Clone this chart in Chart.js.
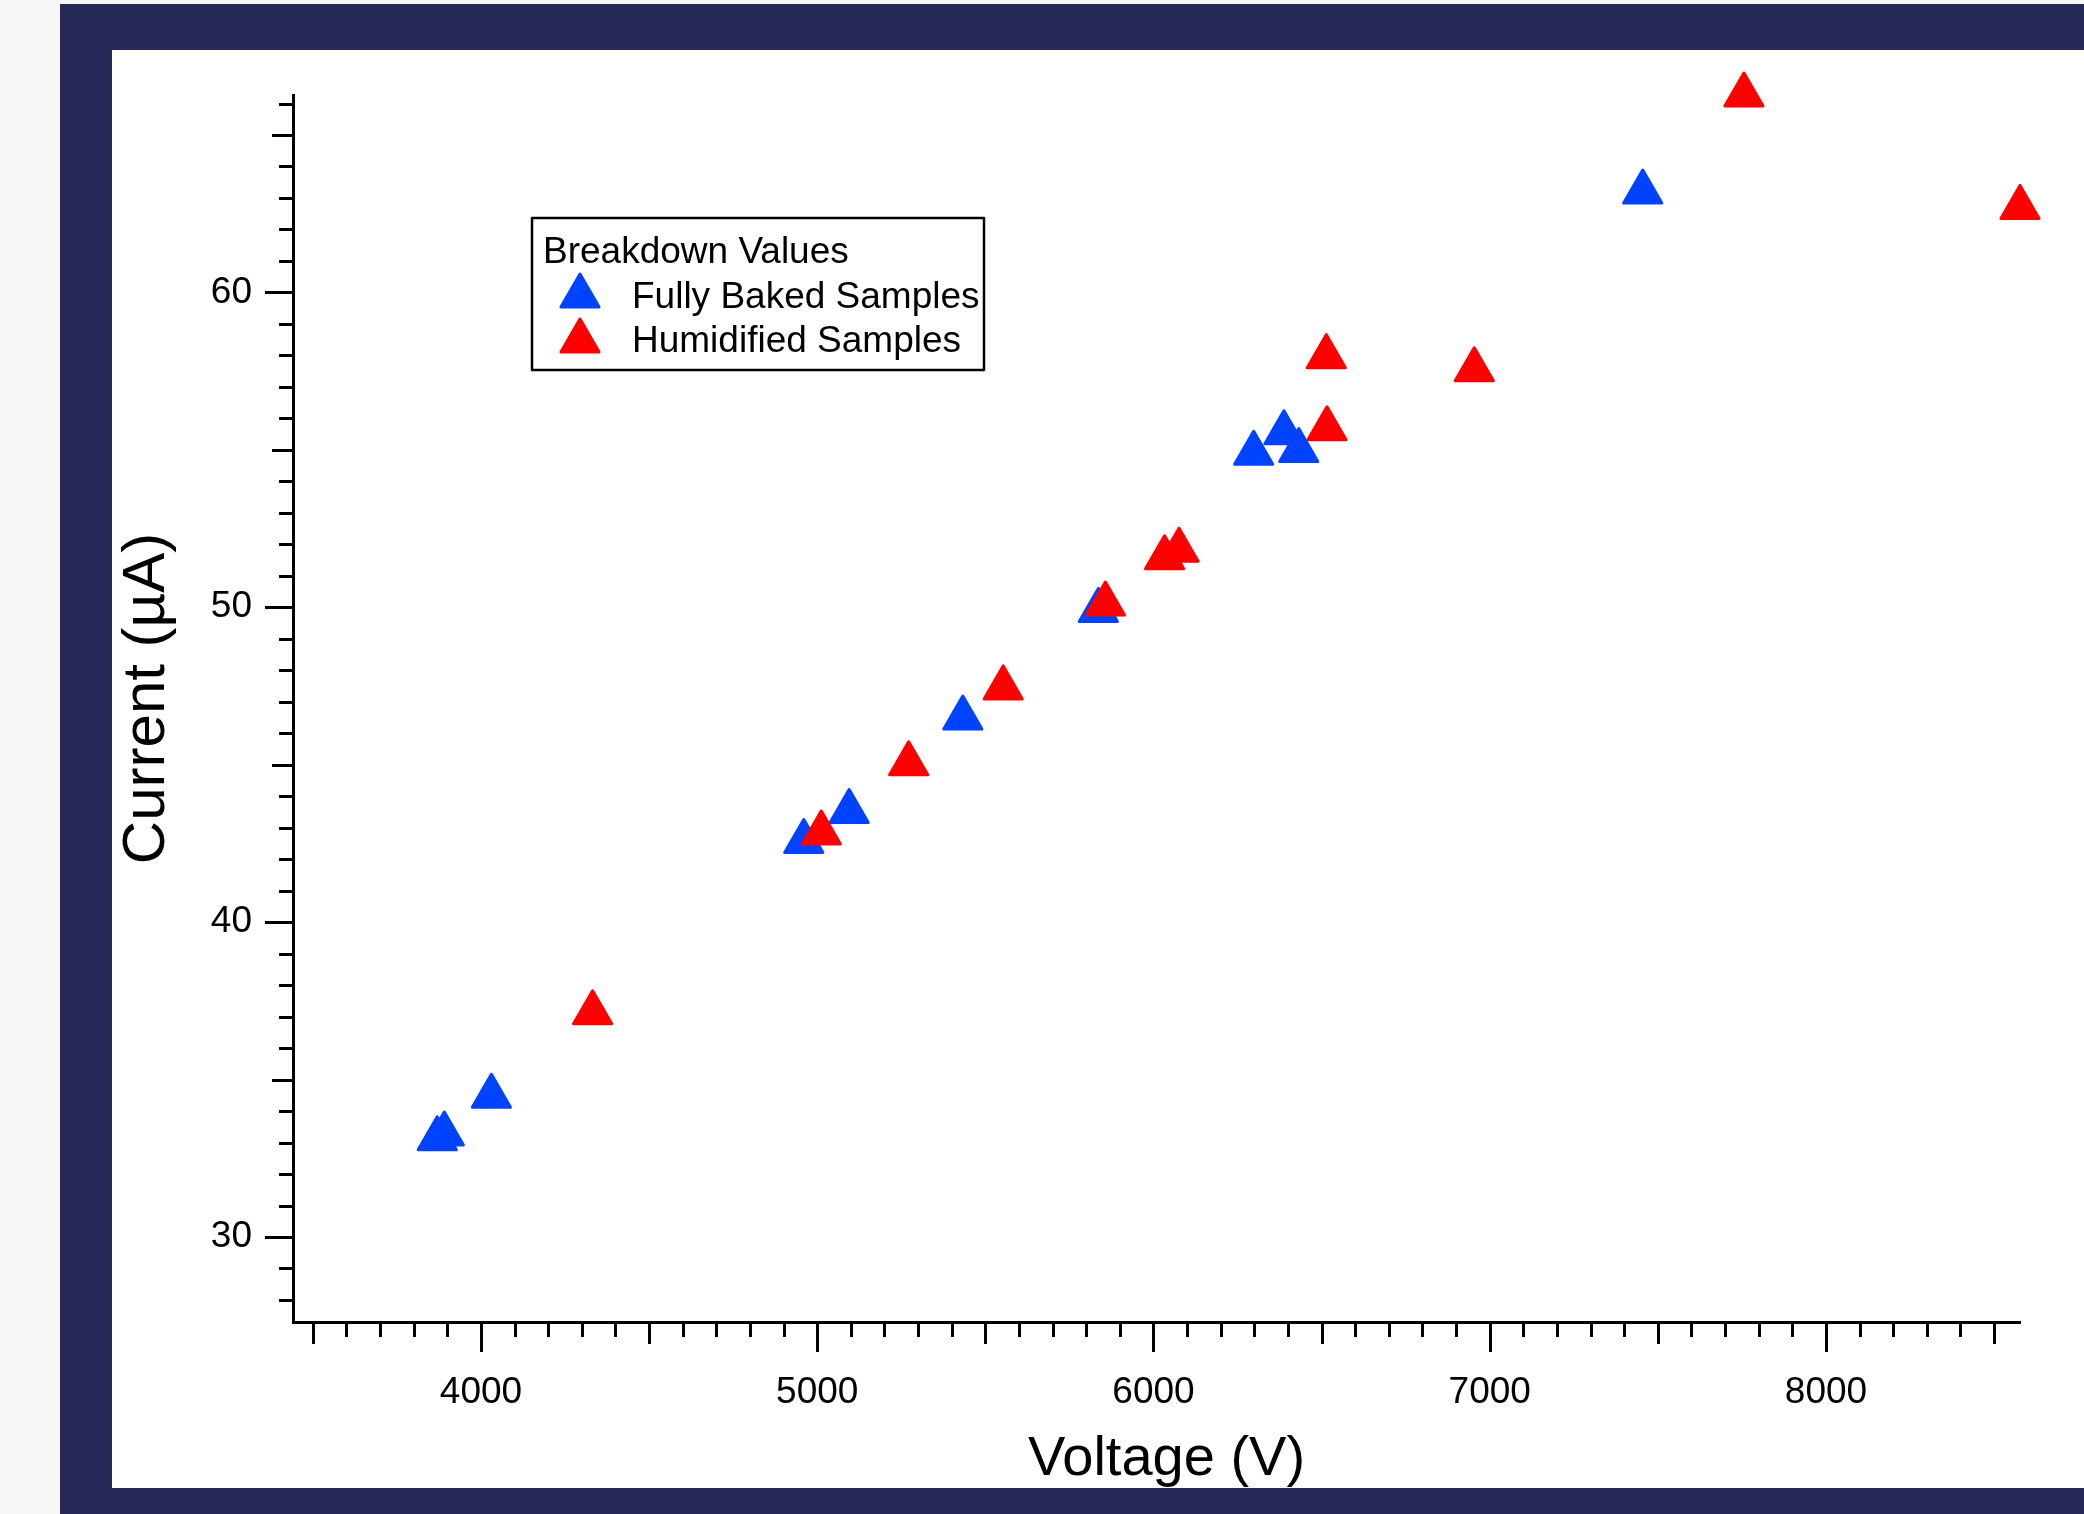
<!DOCTYPE html>
<html>
<head>
<meta charset="utf-8">
<script src="https://cdn.jsdelivr.net/npm/chart.js@4.4.1/dist/chart.umd.min.js"></script>
<style>
  html, body { margin: 0; padding: 0; background: #f7f7f7; }
  body { width: 2084px; height: 1514px; position: relative; overflow: hidden; }
  #frame { position: absolute; left: 60px; top: 4px; right: 0; bottom: 0; background: #272956; }
  #panel { position: absolute; left: 112px; top: 50px; width: 1972px; height: 1438px; background: #fff; }
</style>
</head>
<body>
<div id="frame"></div>
<div id="panel"><canvas id="chart" width="1972" height="1438"></canvas></div>
<script>
// Breakdown values
const bakedVoltage = [3870, 3891, 4031, 4960, 5095, 5433, 5836, 6298, 6388, 6432, 7455];
const bakedCurrent = [33.12, 33.27, 34.47, 42.56, 43.51, 46.48, 49.90, 54.89, 55.54, 54.98, 63.19];

const humidVoltage = [4332, 5012, 5272, 5553, 5857, 6033, 6076, 6514, 6516, 6954, 7756, 8577];
const humidCurrent = [37.12, 42.83, 45.03, 47.44, 50.10, 51.57, 51.81, 57.96, 55.67, 57.54, 66.27, 62.70];

const seriesNames = ['Fully Baked Samples', 'Humidified Samples'];
const legendTitle = 'Breakdown Values';
const xTitle = 'Voltage (V)';
const yTitle = 'Current (µA)';

const xTicks = [4000, 5000, 6000, 7000, 8000];
const yTicks = [30, 40, 50, 60];

const X_MIN = 3441, X_MAX = 8577;
const Y_MIN = 27.3, Y_MAX = 66.27;

const BLUE = '#0043ff';
const RED = '#ff0000';
const FONT = '"Liberation Sans", Arial, sans-serif';

Chart.defaults.font.family = FONT;
Chart.defaults.color = '#000';

function toPoints(xs, ys) {
    return xs.map((v, i) => ({ x: v, y: ys[i] }));
}

// Igor-style tick marks: minor, medium and major lengths
const axisTicks = {
    id: 'axisTicks',
    afterDraw(chart) {
        const { ctx, chartArea: a } = chart;
        const x = chart.scales.x, y = chart.scales.y;
        ctx.save();
        ctx.strokeStyle = '#000';
        ctx.lineWidth = 3;
        ctx.beginPath();
        for (let v = Math.ceil(x.min / 100) * 100; v <= x.max; v += 100) {
            const px = Math.round(x.getPixelForValue(v)) + 0.5;
            const len = v % 1000 === 0 ? 30 : (v % 500 === 0 ? 22 : 15);
            ctx.moveTo(px, a.bottom);
            ctx.lineTo(px, a.bottom + len);
        }
        for (let v = Math.ceil(y.min); v <= y.max; v += 1) {
            const py = Math.round(y.getPixelForValue(v)) + 0.5;
            const len = v % 10 === 0 ? 28 : (v % 5 === 0 ? 21 : 14);
            ctx.moveTo(a.left, py);
            ctx.lineTo(a.left - len, py);
        }
        ctx.stroke();

        // axis titles
        ctx.fillStyle = '#000';
        ctx.textAlign = 'center';
        ctx.textBaseline = 'middle';
        ctx.font = '56px ' + FONT;
        ctx.fillText(xTitle, (a.left + a.right) / 2 + 10, chart.height - 28);
        ctx.translate(35, (a.top + a.bottom) / 2 - 10);
        ctx.rotate(-Math.PI / 2);
        ctx.font = '60px ' + FONT;
        ctx.fillText(yTitle, 0, 0);
        ctx.restore();
    }
};

// Boxed legend with title, placed inside the plot
const boxLegend = {
    id: 'boxLegend',
    beforeDatasetsDraw(chart) {
        chart.ctx.lineJoin = 'round';
    },
    afterDraw(chart) {
        const { ctx, chartArea: a } = chart;
        const left = a.left + 239, top = a.top + 123, w = 452, h = 152;
        ctx.save();
        ctx.fillStyle = '#fff';
        ctx.fillRect(left, top, w, h);
        ctx.strokeStyle = '#000';
        ctx.lineWidth = 2.5;
        ctx.strokeRect(left, top, w, h);

        ctx.fillStyle = '#000';
        ctx.font = '37px ' + FONT;
        ctx.textBaseline = 'alphabetic';
        ctx.textAlign = 'left';
        ctx.fillText(legendTitle, left + 11, top + 45);

        const colors = [BLUE, RED];
        const markerY = [78, 123];
        const textY = [90, 134];
        seriesNames.forEach((name, i) => {
            ctx.fillStyle = colors[i];
            ctx.strokeStyle = colors[i];
            ctx.lineWidth = 3;
            ctx.lineJoin = 'round';
            Chart.helpers.drawPoint(ctx, { pointStyle: 'triangle', radius: 22, borderWidth: 3, rotation: 0 }, left + 48, top + markerY[i]);
            ctx.fillStyle = '#000';
            ctx.fillText(name, left + 100, top + textY[i]);
        });
        ctx.restore();
    }
};

// keep the plot box exactly where the axes are drawn
function noScalePadding(s) {
    s.paddingTop = 0;
    s.paddingBottom = 0;
    s.paddingLeft = 0;
    s.paddingRight = 0;
}

const ctx = document.getElementById('chart').getContext('2d');
new Chart(ctx, {
    type: 'scatter',
    data: {
        datasets: [{
            label: seriesNames[0],
            data: toPoints(bakedVoltage, bakedCurrent),
            backgroundColor: BLUE,
            borderColor: BLUE,
            clip: false,
            order: 1
        }, {
            label: seriesNames[1],
            data: toPoints(humidVoltage, humidCurrent),
            backgroundColor: RED,
            borderColor: RED,
            clip: false,
            order: 0
        }]
    },
    options: {
        responsive: false,
        animation: false,
        events: [],
        layout: { padding: { left: 0, top: 45, right: 64, bottom: 0 } },
        elements: {
            point: { pointStyle: 'triangle', radius: 22, hoverRadius: 22, borderWidth: 3 }
        },
        plugins: {
            legend: { display: false },
            tooltip: { enabled: false }
        },
        scales: {
            x: {
                type: 'linear',
                min: X_MIN,
                max: X_MAX,
                afterFit: s => { s.height = 166; noScalePadding(s); },
                afterBuildTicks: s => { s.ticks = xTicks.map(v => ({ value: v })); },
                grid: { display: false, drawTicks: false },
                border: { display: true, color: '#000', width: 3 },
                ticks: { color: '#000', font: { size: 37 }, padding: 49, maxRotation: 0, autoSkip: false, callback: v => String(v) },
                title: { display: false }
            },
            y: {
                type: 'linear',
                min: Y_MIN,
                max: Y_MAX,
                afterFit: s => { s.width = 181; noScalePadding(s); },
                afterBuildTicks: s => { s.ticks = yTicks.map(v => ({ value: v })); },
                grid: { display: false, drawTicks: false },
                border: { display: true, color: '#000', width: 3 },
                ticks: { color: '#000', font: { size: 37 }, padding: 41, autoSkip: false, callback: v => String(v) },
                title: { display: false }
            }
        }
    },
    plugins: [axisTicks, boxLegend]
});
</script>
</body>
</html>
